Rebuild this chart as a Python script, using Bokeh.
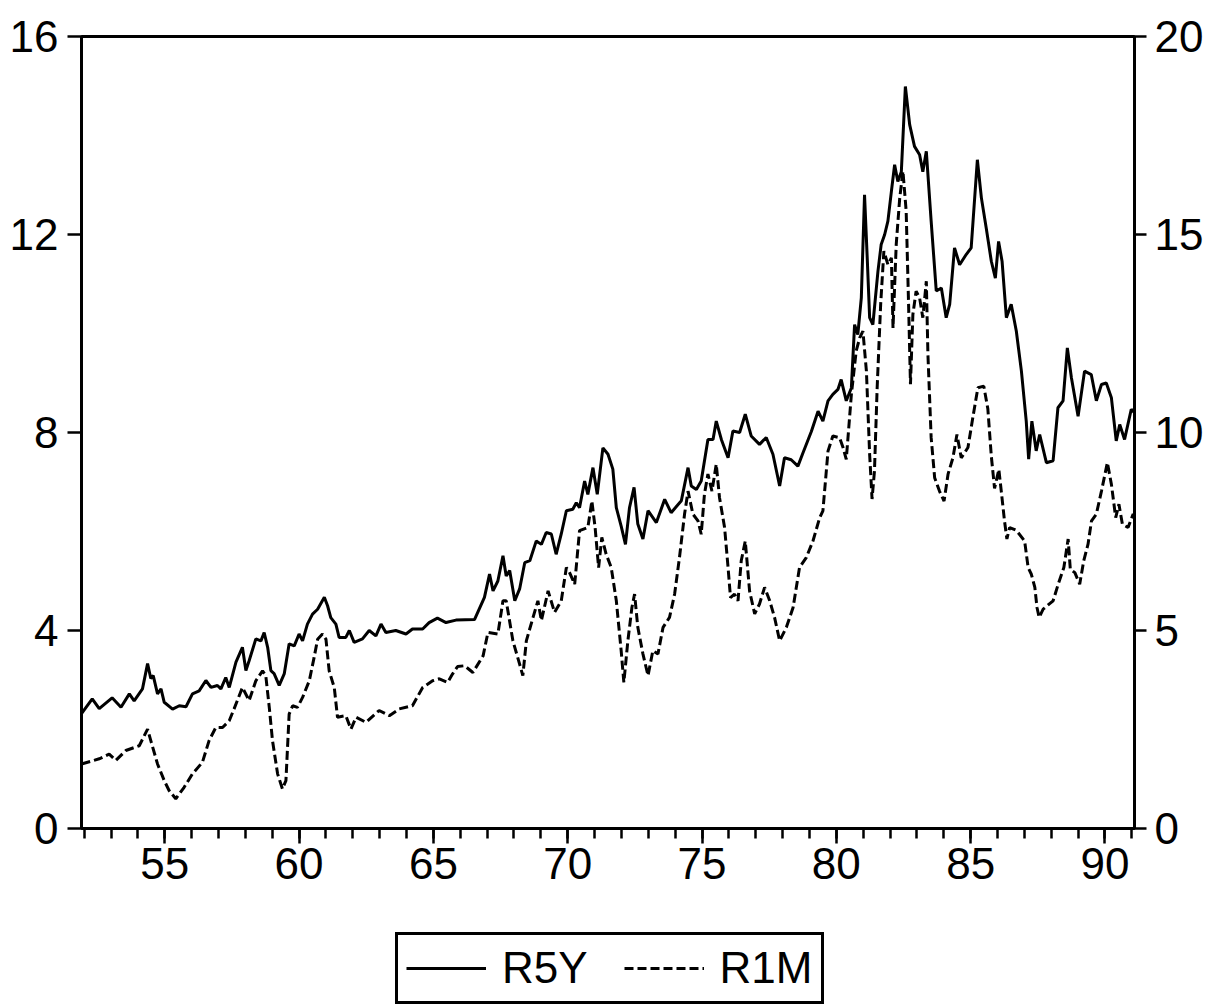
from bokeh.plotting import figure
from bokeh.layouts import column
from bokeh.models import Range1d, LinearAxis, FixedTicker, Legend, LegendItem
from bokeh.embed import file_html
from bokeh.resources import INLINE

# ---- data ----
r5y_t = [51.9, 52.3, 52.56, 53.04, 53.37, 53.68, 53.86, 54.17, 54.36, 54.48, 54.57, 54.73, 54.86, 54.98,
         55.29, 55.54, 55.79, 56.03, 56.28, 56.53, 56.72, 56.96, 57.09, 57.27, 57.40, 57.65, 57.89, 58.02,
         58.14, 58.39, 58.58, 58.70, 58.83, 58.95, 59.07, 59.26, 59.45, 59.63, 59.82, 60.00, 60.13, 60.31,
         60.50, 60.69, 60.94, 61.06, 61.18, 61.37, 61.49, 61.74, 61.87, 62.05, 62.36, 62.61, 62.86, 63.05,
         63.23, 63.60, 63.98, 64.22, 64.60, 64.84, 65.15, 65.47, 65.84, 66.53, 66.90, 67.09, 67.22, 67.40,
         67.59, 67.71, 67.84, 68.03, 68.21, 68.40, 68.59, 68.83, 69.02, 69.20, 69.39, 69.57, 69.76, 69.95,
         70.19, 70.32, 70.44, 70.63, 70.75, 70.94, 71.10, 71.31, 71.50, 71.68, 71.81, 71.99, 72.15, 72.30,
         72.47, 72.61, 72.80, 72.99, 73.30, 73.61, 73.85, 74.23, 74.48, 74.60, 74.79, 74.97, 75.22, 75.41,
         75.53, 75.72, 75.97, 76.15, 76.40, 76.61, 76.83, 77.14, 77.39, 77.64, 77.89, 78.07, 78.32, 78.57,
         78.76, 79.07, 79.32, 79.50, 79.69, 79.87, 80.06, 80.18, 80.37, 80.56, 80.68, 80.80, 80.93, 81.05,
         81.15, 81.24, 81.36, 81.55, 81.67, 81.80, 81.92, 82.05, 82.17, 82.29, 82.42, 82.57, 82.73, 82.91,
         83.10, 83.22, 83.35, 83.53, 83.72, 83.91, 84.09, 84.22, 84.40, 84.59, 84.84, 85.02, 85.25, 85.40,
         85.58, 85.77, 85.92, 86.04, 86.17, 86.33, 86.51, 86.70, 86.89, 87.07, 87.16, 87.28, 87.44, 87.57,
         87.82, 88.07, 88.25, 88.44, 88.60, 88.75, 89.00, 89.24, 89.49, 89.68, 89.87, 90.05, 90.24, 90.42,
         90.55, 90.73, 90.98, 91.1]
r5y_v = [2.32, 2.62, 2.42, 2.64, 2.45, 2.72, 2.58, 2.82, 3.33, 3.03, 3.09, 2.72, 2.82, 2.55,
         2.41, 2.48, 2.46, 2.72, 2.78, 2.99, 2.85, 2.89, 2.82, 3.05, 2.85, 3.36, 3.66, 3.19,
         3.39, 3.83, 3.79, 3.96, 3.66, 3.19, 3.13, 2.89, 3.13, 3.73, 3.69, 3.93, 3.79, 4.13,
         4.33, 4.43, 4.67, 4.50, 4.26, 4.13, 3.86, 3.86, 4.00, 3.76, 3.83, 4.00, 3.89, 4.13,
         3.96, 4.00, 3.93, 4.03, 4.03, 4.16, 4.25, 4.16, 4.21, 4.22, 4.67, 5.14, 4.80, 5.00,
         5.51, 5.10, 5.21, 4.60, 4.84, 5.37, 5.41, 5.81, 5.74, 5.98, 5.95, 5.54, 5.95, 6.42,
         6.45, 6.58, 6.48, 7.02, 6.75, 7.29, 6.75, 7.69, 7.56, 7.26, 6.48, 6.11, 5.74, 6.48,
         6.89, 6.15, 5.85, 6.42, 6.18, 6.65, 6.38, 6.62, 7.29, 6.92, 6.85, 7.02, 7.86, 7.86,
         8.23, 7.86, 7.49, 8.03, 8.00, 8.37, 7.93, 7.76, 7.90, 7.56, 6.92, 7.49, 7.45, 7.32,
         7.59, 8.02, 8.43, 8.23, 8.64, 8.77, 8.87, 9.07, 8.64, 8.90, 10.18, 9.98, 10.72, 12.80,
         11.53, 10.32, 10.18, 11.26, 11.80, 12.00, 12.27, 12.87, 13.41, 13.07, 13.27, 14.99, 14.22, 13.78,
         13.61, 13.27, 13.68, 12.27, 10.86, 10.92, 10.32, 10.59, 11.73, 11.39, 11.60, 11.73, 13.51, 12.74,
         12.13, 11.46, 11.12, 11.86, 11.46, 10.32, 10.59, 10.05, 9.24, 8.23, 7.46, 8.23, 7.63, 7.96,
         7.39, 7.43, 8.50, 8.64, 9.71, 9.11, 8.33, 9.24, 9.17, 8.64, 8.97, 9.00, 8.70, 7.83,
         8.16, 7.86, 8.47, 8.40]

r1m_t = [51.9, 52.56, 52.93, 53.18, 53.55, 54.05, 54.36, 54.48, 54.73, 54.98, 55.16, 55.41, 55.72, 56.03,
         56.40, 56.65, 56.90, 57.15, 57.40, 57.58, 57.89, 58.14, 58.39, 58.64, 58.76, 58.89, 59.01, 59.20,
         59.38, 59.51, 59.63, 59.76, 59.94, 60.13, 60.38, 60.56, 60.69, 60.87, 61.00, 61.12, 61.31, 61.43,
         61.74, 61.93, 62.12, 62.49, 62.98, 63.36, 63.73, 64.22, 64.60, 64.97, 65.22, 65.53, 65.71, 65.90,
         66.16, 66.47, 66.85, 67.03, 67.40, 67.59, 67.71, 67.96, 68.21, 68.33, 68.46, 68.71, 68.89, 69.02,
         69.27, 69.51, 69.76, 69.95, 70.07, 70.26, 70.44, 70.75, 70.90, 71.02, 71.15, 71.27, 71.43, 71.62,
         71.81, 71.99, 72.09, 72.24, 72.39, 72.49, 72.61, 72.80, 72.99, 73.17, 73.36, 73.55, 73.79, 73.98,
         74.16, 74.35, 74.48, 74.66, 74.85, 74.97, 75.09, 75.22, 75.37, 75.53, 75.65, 75.84, 75.97, 76.06,
         76.21, 76.34, 76.46, 76.61, 76.77, 76.96, 77.14, 77.33, 77.52, 77.70, 77.89, 78.14, 78.39, 78.63,
         78.88, 79.13, 79.38, 79.50, 79.69, 79.87, 80.12, 80.25, 80.37, 80.56, 80.74, 80.87, 80.99, 81.12,
         81.24, 81.33, 81.42, 81.52, 81.65, 81.77, 81.92, 82.05, 82.11, 82.23, 82.36, 82.48, 82.60, 82.69,
         82.76, 82.85, 82.97, 83.10, 83.22, 83.35, 83.41, 83.53, 83.66, 83.84, 84.01, 84.16, 84.34, 84.49,
         84.65, 84.90, 85.08, 85.27, 85.49, 85.64, 85.77, 85.89, 86.05, 86.14, 86.26, 86.35, 86.45, 86.70,
         87.01, 87.14, 87.26, 87.39, 87.47, 87.55, 87.70, 88.07, 88.26, 88.47, 88.63, 88.71, 88.88, 89.06,
         89.21, 89.37, 89.50, 89.68, 89.87, 90.09, 90.24, 90.40, 90.52, 90.65, 90.86, 91.05, 91.1]
r1m_v = [1.63, 1.76, 1.88, 1.72, 1.97, 2.09, 2.51, 2.22, 1.63, 1.21, 0.96, 0.75, 1.04, 1.38,
         1.67, 2.22, 2.55, 2.55, 2.72, 3.02, 3.56, 3.23, 3.73, 3.98, 3.86, 3.06, 2.22, 1.38,
         1.00, 1.21, 2.89, 3.10, 3.06, 3.31, 3.73, 4.32, 4.78, 4.91, 4.78, 3.98, 3.56, 2.81,
         2.85, 2.51, 2.81, 2.68, 2.98, 2.85, 3.02, 3.10, 3.56, 3.73, 3.78, 3.69, 3.90, 4.09,
         4.11, 3.94, 4.36, 4.95, 4.91, 5.75, 5.75, 4.74, 4.15, 3.86, 4.74, 5.33, 5.75, 5.25,
         6.00, 5.46, 5.75, 6.59, 6.46, 6.17, 7.52, 7.60, 8.27, 7.60, 6.59, 7.35, 6.93, 6.59,
         5.75, 4.49, 3.69, 4.74, 5.58, 5.92, 5.08, 4.41, 3.86, 4.49, 4.41, 5.08, 5.33, 5.92,
         6.84, 7.94, 8.52, 7.94, 7.77, 7.43, 8.44, 8.95, 8.52, 9.20, 8.36, 7.60, 6.59, 5.83,
         5.92, 5.75, 6.76, 7.26, 6.00, 5.42, 5.67, 6.09, 5.75, 5.33, 4.74, 5.08, 5.58, 6.59,
         6.84, 7.26, 7.85, 8.02, 9.53, 9.91, 9.87, 9.62, 9.32, 10.96, 12.06, 12.39, 12.56, 11.55,
         9.45, 8.32, 9.03, 11.13, 13.23, 14.58, 14.24, 14.41, 12.64, 14.75, 15.92, 16.60, 15.59, 13.23,
         11.22, 12.98, 13.57, 13.40, 12.90, 13.82, 11.97, 9.87, 8.86, 8.52, 8.27, 8.95, 9.36, 9.95,
         9.36, 9.62, 10.37, 11.13, 11.17, 10.60, 9.40, 8.59, 9.07, 8.52, 7.77, 7.31, 7.60, 7.53,
         7.26, 6.59, 6.42, 6.09, 5.58, 5.33, 5.54, 5.75, 6.17, 6.59, 7.31, 6.55, 6.46, 6.17,
         6.76, 7.18, 7.77, 7.94, 8.52, 9.24, 8.69, 7.85, 8.19, 7.68, 7.60, 7.94, 7.85]

series_names = ["R5Y", "R1M"]
x_major = [55, 60, 65, 70, 75, 80, 85, 90]
x_minor = list(range(52, 92))
left_ticks = [0, 4, 8, 12, 16]
right_ticks = [0, 5, 10, 15, 20]

FONT = "Liberation Sans"
FS = "44px"
W = 1208

# ---------------- main chart ----------------
p = figure(width=W, height=908, output_backend="svg", toolbar_location=None,
           x_range=Range1d(51.9, 91.1), y_range=Range1d(0, 16),
           min_border_left=81, min_border_right=74, min_border_top=36, min_border_bottom=80)
p.extra_y_ranges = {"right": Range1d(0, 20)}
p.xgrid.visible = False
p.ygrid.visible = False
p.outline_line_color = "black"
p.outline_line_width = 3
p.background_fill_color = "white"
p.border_fill_color = "white"

solid_style = dict(line_color="black", line_width=3)
dash_style = dict(line_color="black", line_width=3, line_dash="9 4")

r1 = p.line(r5y_t, r5y_v, **solid_style)
r2 = p.line(r1m_t, r1m_v, y_range_name="right", **dash_style)

xa = p.xaxis[0]
xa.ticker = FixedTicker(ticks=x_major, minor_ticks=x_minor)
ya = p.yaxis[0]
ya.ticker = FixedTicker(ticks=left_ticks, minor_ticks=[])
yr = LinearAxis(y_range_name="right", ticker=FixedTicker(ticks=right_ticks, minor_ticks=[]))
p.add_layout(yr, "right")

for ax in (xa, ya, yr):
    ax.axis_line_color = "black"
    ax.axis_line_width = 3
    ax.major_tick_line_color = "black"
    ax.major_tick_line_width = 2.5
    ax.minor_tick_line_color = "black"
    ax.minor_tick_line_width = 2.5
    ax.major_tick_in = 0
    ax.minor_tick_in = 0
    ax.major_label_text_font = FONT
    ax.major_label_text_font_size = FS
    ax.major_label_text_color = "black"

xa.major_tick_out = 15
xa.minor_tick_out = 10
xa.major_label_standoff = 4
ya.major_tick_out = 14
ya.minor_tick_out = 0
ya.major_label_standoff = 9
yr.major_tick_out = 12
yr.minor_tick_out = 0
yr.major_label_standoff = 8

# ---------------- legend strip below ----------------
lg = figure(width=W, height=1006 - 908, output_backend="svg", toolbar_location=None,
            x_range=Range1d(0, 1), y_range=Range1d(0, 1),
            x_axis_location=None, y_axis_location=None,
            min_border_left=0, min_border_right=0, min_border_top=0, min_border_bottom=0)
lg.xgrid.visible = False
lg.ygrid.visible = False
lg.outline_line_color = None
lg.background_fill_color = "white"
lg.border_fill_color = "white"
k1 = lg.line(r5y_t, r5y_v, visible=False, **solid_style)
k2 = lg.line(r1m_t, r1m_v, visible=False, **dash_style)

legend = Legend(items=[LegendItem(label=series_names[0], renderers=[k1]),
                       LegendItem(label=series_names[1], renderers=[k2])],
                location=(314, 2), orientation="horizontal", margin=0,
                label_text_font=FONT, label_text_font_size=FS, label_text_color="black",
                glyph_width=80, glyph_height=30, label_standoff=16, spacing=36, padding=8,
                border_line_color="black", border_line_width=3, border_line_alpha=1.0,
                background_fill_color="white", background_fill_alpha=1.0)
lg.add_layout(legend, "center")

layout = column(p, lg, spacing=0)
open("out.html", "w").write(file_html(layout, INLINE))
